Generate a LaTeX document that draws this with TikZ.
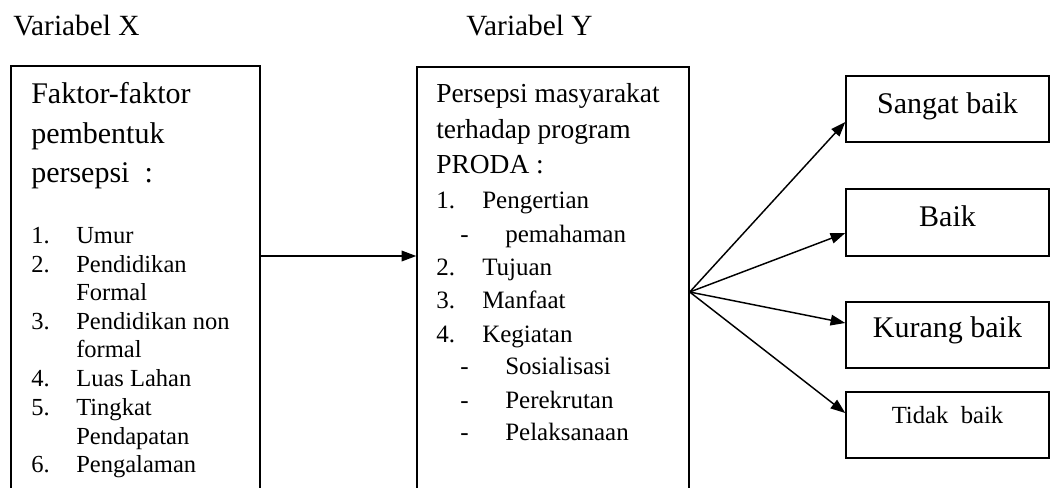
\documentclass[tikz,border=0pt]{standalone}
\usepackage{fontspec}
\setmainfont{Liberation Serif}
\usetikzlibrary{fit,arrows.meta}
\begin{document}
\begin{tikzpicture}[x=0.75pt,y=-0.75pt,
  box/.style={draw, line width=1.1pt, inner sep=0pt},
  arr/.style={line width=1.1pt, -{Triangle[length=11pt,width=8pt]}},
  ln/.style={anchor=base west, inner sep=0pt},
  lc/.style={anchor=base, inner sep=0pt},
  fhead/.style={font=\fontsize{22}{26}\selectfont},
  fbig/.style={font=\fontsize{22.5}{27}\selectfont},
  fmid/.style={font=\fontsize{20.6}{25}\selectfont},
  flist/.style={font=\fontsize{18.4}{22}\selectfont},
  fmlist/.style={font=\fontsize{18.75}{22}\selectfont},
  fsmall/.style={font=\fontsize{18.5}{22}\selectfont},
]
\useasboundingbox (0,0) rectangle (1050,487);
\begin{scope}
\clip (0,0) rectangle (1050,487);
\node[box, fit={(11,66)(260,545)}] (lbox) {};
\node[box, fit={(417,67)(689,545)}] (mbox) {};
\end{scope}

% headings
\node[ln, fhead] (vx) at (13,35.5) {Variabel X};
\node[ln, fhead] (vy) at (466,35.5) {Variabel Y};

% left box text
\node[ln, fbig] (l1) at (31,103) {Faktor-faktor};
\node[ln, fbig] (l2) at (31,143) {pembentuk};
\node[ln, fbig] (l3) at (31,182) {persepsi\hspace{0.5em}:};
\foreach \n/\t/\y [count=\i] in {1./Umur/243, 2./Pendidikan/272, /Formal/300, 3./Pendidikan non/329, /formal/357, 4./Luas Lahan/386, 5./Tingkat/415, /Pendapatan/444, 6./Pengalaman/472}{
  \node[ln, flist] (ln\i) at (31,\y) {\n};
  \node[ln, flist] (lt\i) at (76,\y) {\t};
}

% middle box text
\node[ln, fmid] (m1) at (436,102) {Persepsi masyarakat};
\node[ln, fmid] (m2) at (436,138) {terhadap program};
\node[ln, fmid] (m3) at (436,173) {PRODA :};
\node[ln, fmlist] (mn1) at (436,208) {1.};
\node[ln, fmlist] (mt1) at (482,208) {Pengertian};
\node[ln, fmlist] (md1) at (460,242) {-};
\node[ln, fmlist] (ms1) at (505,242) {pemahaman};
\node[ln, fmlist] (mn2) at (436,275) {2.};
\node[ln, fmlist] (mt2) at (482,275) {Tujuan};
\node[ln, fmlist] (mn3) at (436,308) {3.};
\node[ln, fmlist] (mt3) at (482,308) {Manfaat};
\node[ln, fmlist] (mn4) at (436,342) {4.};
\node[ln, fmlist] (mt4) at (482,342) {Kegiatan};
\node[ln, fmlist] (md2) at (460,374) {-};
\node[ln, fmlist] (ms2) at (505,374) {Sosialisasi};
\node[ln, fmlist] (md3) at (460,408) {-};
\node[ln, fmlist] (ms3) at (505,408) {Perekrutan};
\node[ln, fmlist] (md4) at (460,440) {-};
\node[ln, fmlist] (ms4) at (505,440) {Pelaksanaan};

% right boxes
\node[box, fit={(846,76)(1049,142)}] (r1) {};
\node[box, fit={(846,189)(1049,256)}] (r2) {};
\node[box, fit={(846,302)(1049,368)}] (r3) {};
\node[box, fit={(846,392)(1049,458)}] (r4) {};
\node[lc, fbig] (t1) at (947.5,113) {Sangat baik};
\node[lc, fbig] (t2) at (947.5,226) {Baik};
\node[lc, fbig] (t3) at (947.5,337) {Kurang baik};
\node[lc, fsmall] (t4) at (947.5,423) {Tidak\ \ baik};

% connectors
\draw[arr] (lbox.east |- 0,256) -- (mbox.west |- 0,256);
\coordinate (fan) at (mbox.east |- 0,292);
\draw[arr] (fan) -- (r1.west |- 0,122);
\draw[arr] (fan) -- (r2.west |- 0,233);
\draw[arr] (fan) -- (r3.west |- 0,323);
\draw[arr] (fan) -- (r4.west |- 0,413);
\end{tikzpicture}
\end{document}
